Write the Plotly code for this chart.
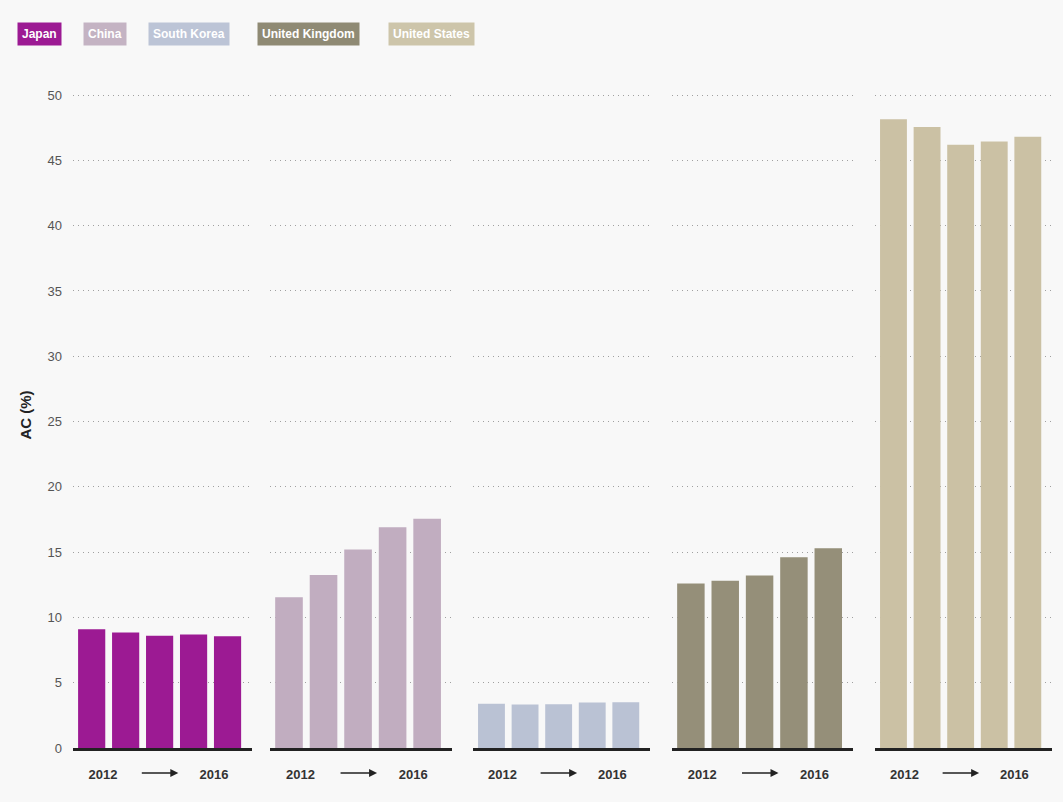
import plotly.graph_objects as go

countries = ["Japan", "China", "South Korea", "United Kingdom", "United States"]
years = [2012, 2013, 2014, 2015, 2016]
japan = [9.1, 8.85, 8.6, 8.7, 8.55]
china = [11.55, 13.25, 15.2, 16.9, 17.55]
south_korea = [3.38, 3.33, 3.35, 3.48, 3.5]
united_kingdom = [12.6, 12.8, 13.2, 14.6, 15.3]
united_states = [48.15, 47.55, 46.2, 46.45, 46.8]
series = [japan, china, south_korea, united_kingdom, united_states]
bar_colors = ["#9c1a93", "#c1adc0", "#bac2d4", "#958f79", "#cbc1a4"]
legend_colors = ["#9c1a93", "#c4b3c3", "#bcc4d6", "#8f8a74", "#cdc5aa"]
y_ticks = [0, 5, 10, 15, 20, 25, 30, 35, 40, 45, 50]

W, H = 1063, 802
L, R, T, B = 73, 11, 82, 54
pw = W - L - R
panels_px = [(73, 252), (270, 452), (473, 650), (672, 853), (875, 1052)]
domains = [((a - L) / pw, (b - L) / pw) for a, b in panels_px]

fig = go.Figure()
for i, (name, vals) in enumerate(zip(countries, series)):
    xa = "x" if i == 0 else f"x{i+1}"
    ya = "y" if i == 0 else f"y{i+1}"
    fig.add_trace(go.Bar(x=list(range(len(years))), y=vals, name=name,
                         marker=dict(color=bar_colors[i], line=dict(width=0)),
                         xaxis=xa, yaxis=ya, showlegend=False))
    key = "" if i == 0 else str(i + 1)
    fig.layout["xaxis" + key] = dict(
        domain=list(domains[i]), range=[-0.55, 4.72], anchor=ya,
        tickvals=[0.33, 3.6], ticktext=["<b>2012</b>", "<b>2016</b>"],
        tickfont=dict(family="Liberation Sans, Arial", size=13, color="#333"),
        ticks="", ticklabelstandoff=12, showgrid=False, zeroline=False,
        showline=True, linecolor="#222", linewidth=3, fixedrange=True)
    fig.layout["yaxis" + key] = dict(
        range=[0, 51], anchor=xa, tickvals=y_ticks,
        showticklabels=(i == 0), showgrid=True, gridcolor="#a0a0a0",
        griddash="1px,4px", gridwidth=1, zeroline=False, ticks="",
        tickfont=dict(family="Liberation Sans, Arial", size=13, color="#555"),
        ticklabelstandoff=10,
        **({"matches": "y"} if i > 0 else {}))
    fig.add_annotation(xref=xa, yref="paper", x=2.55, y=-0.0375, ax=-38, ay=0,
                       axref="pixel", ayref="pixel", text="", showarrow=True,
                       arrowhead=2, arrowsize=1, arrowwidth=1.6, arrowcolor="#222")

fig.layout.yaxis.title = dict(text="<b>AC (%)</b>",
                              font=dict(family="Liberation Sans, Arial", size=15, color="#222"),
                              standoff=12)

# legend boxes
leg_x = [17, 83, 148, 257, 388]
for name, c, px in zip(countries, legend_colors, leg_x):
    fig.add_annotation(xref="paper", yref="paper", x=(px - L) / pw,
                       y=1 + (T - 34) / (H - T - B), xanchor="left", yanchor="middle",
                       text=f"<b>{name}</b>", showarrow=False, bgcolor=c,
                       font=dict(family="Liberation Sans, Arial", size=12, color="white"),
                       borderpad=4)

fig.update_layout(width=W, height=H, margin=dict(l=L, r=R, t=T, b=B),
                  paper_bgcolor="#f8f8f8", plot_bgcolor="#f8f8f8",
                  bargap=0.2)
fig.write_html("out.html")
